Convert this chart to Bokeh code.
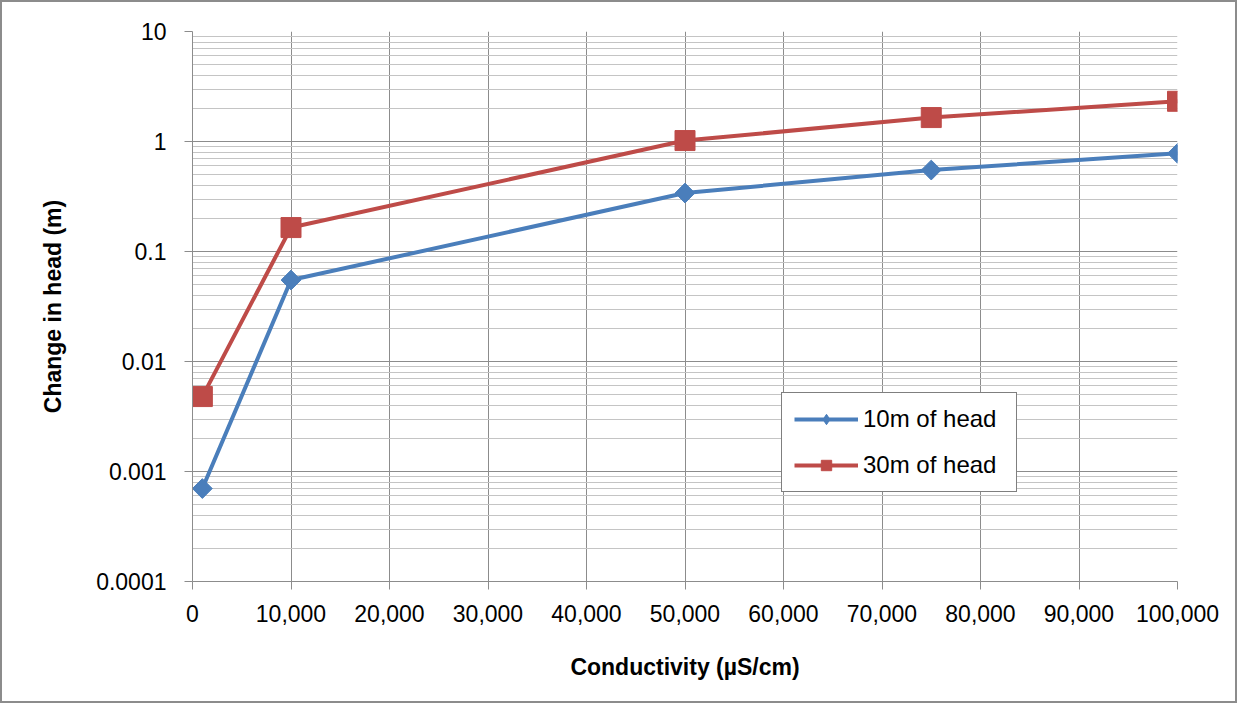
import math
from bokeh.plotting import figure
from bokeh.models import (FixedTicker, NumeralTickFormatter, CustomJSTickFormatter, Legend,
                          LegendItem, ColumnDataSource)
from bokeh.embed import file_html
from bokeh.resources import INLINE

# Data
conductivity = [1000, 10000, 50000, 75000, 100000]
head_10m = [0.0007, 0.055, 0.34, 0.55, 0.78]
head_30m = [0.0048, 0.165, 1.02, 1.65, 2.32]
series_names = ["10m of head", "30m of head"]
x_ticks = [0, 10000, 20000, 30000, 40000, 50000, 60000, 70000, 80000, 90000, 100000]
y_ticks = [0.0001, 0.001, 0.01, 0.1, 1, 10]
y_minor = [m * d for d in [0.0001, 0.001, 0.01, 0.1, 1] for m in range(2, 10)]

FONT = "Liberation Sans"

p = figure(width=1237, height=703, y_axis_type="log",
           x_range=(0, 100000), y_range=(0.0001, 10),
           output_backend="svg", toolbar_location=None,
           min_border_left=190, min_border_right=62,
           min_border_top=29, min_border_bottom=124)
p.styles = {"border": "2px solid #8c8c8c", "box-sizing": "border-box"}
p.outline_line_color = None
p.background_fill_color = "white"
p.border_fill_color = "white"

# Axes
p.xaxis.ticker = FixedTicker(ticks=x_ticks)
p.xaxis.formatter = NumeralTickFormatter(format="0,0")
p.yaxis.ticker = FixedTicker(ticks=y_ticks, minor_ticks=y_minor)
p.yaxis.formatter = CustomJSTickFormatter(code="return tick.toString();")

for ax in (p.xaxis, p.yaxis):
    ax.axis_line_color = "#8c8c8c"
    ax.major_tick_line_color = "#8c8c8c"
    ax.major_tick_out = 8
    ax.major_tick_in = 0
    ax.minor_tick_line_color = None
    ax.major_label_text_font = FONT
    ax.major_label_text_font_size = "23px"
    ax.major_label_text_color = "black"
    ax.axis_label_text_font = FONT
    ax.axis_label_text_font_size = "23px"
    ax.axis_label_text_font_style = "bold"
    ax.axis_label_text_color = "black"

p.xaxis.axis_label = "Conductivity (µS/cm)"
p.yaxis.axis_label = "Change in head (m)"
p.xaxis.major_label_standoff = 15
p.yaxis.major_label_standoff = 18
p.xaxis.axis_label_standoff = 29
p.yaxis.axis_label_standoff = 27

# Grid
p.xgrid.grid_line_color = "#8c8c8c"
p.xgrid.ticker = FixedTicker(ticks=x_ticks)
p.ygrid.grid_line_color = "#8c8c8c"
p.ygrid.minor_grid_line_color = "#c4c4c4"
p.ygrid.ticker = FixedTicker(ticks=y_ticks, minor_ticks=y_minor)

blue = "#4a7ebb"
red = "#be4b48"

src10 = ColumnDataSource(dict(x=conductivity, y=head_10m))
src30 = ColumnDataSource(dict(x=conductivity, y=head_30m))

l1 = p.line("x", "y", source=src10, line_color=blue, line_width=4)
# diamond used as legend swatch; fully covered by the rotated square markers drawn after it
m1_key = p.scatter("x", "y", source=src10, marker="diamond", size=16,
                   fill_color=blue, line_color=blue)
m1 = p.scatter("x", "y", source=src10, marker="square", angle=math.pi / 4, size=14,
               fill_color=blue, line_color=blue)
l2 = p.line("x", "y", source=src30, line_color=red, line_width=4)
m2 = p.scatter("x", "y", source=src30, marker="square", size=20, fill_color=red, line_color=red)

legend = Legend(items=[LegendItem(label=series_names[0], renderers=[l1, m1_key]),
                       LegendItem(label=series_names[1], renderers=[l2, m2])],
                location=(589, 89))
legend.border_line_color = "black"
legend.border_line_width = 1
legend.background_fill_alpha = 1
legend.label_text_font = FONT
legend.label_text_font_size = "24px"
legend.label_text_color = "black"
legend.glyph_width = 64
legend.glyph_height = 26
legend.label_height = 26
legend.label_width = 141
legend.label_standoff = 5
legend.spacing = 18
legend.padding = 12
legend.margin = 0
p.add_layout(legend, "center")

open("out.html", "w").write(file_html(p, INLINE))
